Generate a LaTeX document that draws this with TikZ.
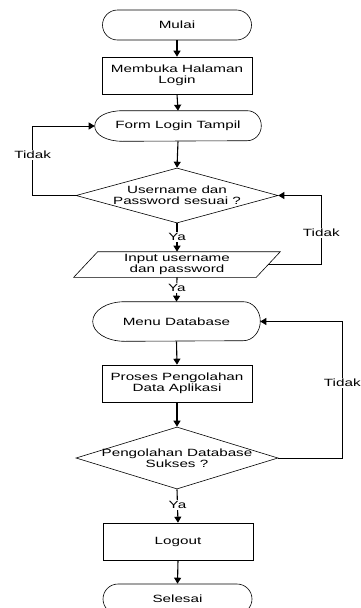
\documentclass[tikz,border=0pt]{standalone}
\usepackage{fontspec}
\setmainfont[FakeStretch=1.45]{Liberation Sans}
\usetikzlibrary{arrows.meta,shapes.geometric}

\begin{document}
\begin{tikzpicture}
    [
        x=1pt, y=-1pt, line width=0.6pt,
        >={Triangle[length=6pt,width=7pt]},
        every node/.style={font=\fontsize{10.5}{11}\selectfont, align=center, inner sep=0pt},
        terminal/.style={draw, rounded corners=15pt, minimum width=149pt, minimum height=30pt},
        proses/.style={draw, rectangle, minimum width=150pt, minimum height=37pt},
        tampil/.style={rectangle, minimum width=166pt, minimum height=30pt},
        keputusan/.style={diamond, draw, minimum width=202pt, minimum height=55pt},
        masukan/.style={rectangle, minimum width=182pt, minimum height=25pt},
        alur/.style={->, line width=1.1pt},
        balik/.style={->, line width=0.7pt},
        ket/.style={fill=white, inner sep=1pt},
    ]
    \useasboundingbox (0,0) rectangle (361,608);

    \node[terminal] (mulai) at (177,25) {Mulai};
    \node[proses] (buka) at (177,75.5) {Membuka Halaman\\Login};
    \node[tampil] (form) at (178,126) {Form Login Tampil};
    \node[keputusan, label={[align=center]center:Username dan\\Password sesuai ?}] (cek) at (177,195.5) {};
    \node[masukan] (input) at (177,264.5) {Input username\\dan password};
    \node[tampil, minimum width=167pt, minimum height=39pt] (menu) at (176.5,321.5) {Menu Database};
    \node[proses] (olah) at (177,383.5) {Proses Pengolahan\\Data Aplikasi};
    \node[keputusan, minimum height=62pt, label={[align=center]center:Pengolahan Database\\Sukses ?}] (sukses) at (177,458) {};
    \node[proses] (logout) at (178,541.5) {Logout};
    \node[terminal] (selesai) at (177.5,599) {Selesai};

    % bentuk display dan input
    \draw ([xshift=28pt]form.north west) -- ([xshift=-14pt]form.north east)
        arc[start angle=90, end angle=-90, x radius=14pt, y radius=15pt]
        -- ([xshift=28pt]form.south west)
        .. controls +(-16pt,0pt) and +(0pt,-9pt) .. (form.west)
        .. controls +(0pt,9pt) and +(-16pt,0pt) .. ([xshift=28pt]form.north west);
    \draw ([xshift=32pt]menu.north west) -- ([xshift=-17pt]menu.north east)
        arc[start angle=90, end angle=-90, x radius=17pt, y radius=19.5pt]
        -- ([xshift=32pt]menu.south west)
        .. controls +(-18pt,0pt) and +(0pt,-11pt) .. (menu.west)
        .. controls +(0pt,11pt) and +(-18pt,0pt) .. ([xshift=32pt]menu.north west);
    \draw ([xshift=12pt]input.north west) -- ([xshift=12pt]input.north east)
        -- ([xshift=-12pt]input.south east) -- ([xshift=-12pt]input.south west) -- cycle;

    \draw[alur] (mulai.south) -- (buka.north);
    \draw[alur] (buka.south) -- (form.north);
    \draw[alur] (form.south) -- (cek.north);
    \draw[alur] (cek.south) -- node[ket, pos=0.48] {Ya} (input.north);
    \draw[alur] (input.south) -- node[ket, pos=0.44] {Ya} (menu.north);
    \draw[alur] (menu.south) -- (olah.north);
    \draw[alur] (olah.south) -- (sukses.north);
    \draw[alur] (sukses.south) -- node[ket, pos=0.47] {Ya} (logout.north);
    \draw[alur] (logout.south) -- (selesai.north);

    \draw[balik] (cek.west) -| node[ket, pos=0.79] {Tidak} ([xshift=-62pt]form.west) -- (form.west);
    \draw[balik] (input.east) -| node[ket, pos=0.73] {Tidak} ([xshift=43pt]cek.east) -- (cek.east);
    \draw[balik] (sukses.east) -| node[ket, pos=0.775] {Tidak} ([xshift=82pt]menu.east) -- (menu.east);
\end{tikzpicture}
\end{document}
